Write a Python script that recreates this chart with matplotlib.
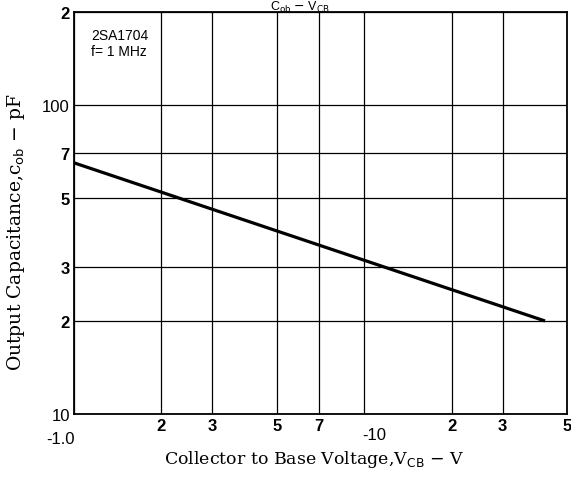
import matplotlib
matplotlib.use("Agg")
import matplotlib.pyplot as plt
from matplotlib.ticker import FixedLocator, NullLocator
import matplotlib.transforms as mtransforms

# Data
vcb = [1.0, 42.0]
cob = [65.0, 20.0]

x_ticks = [1, 2, 3, 5, 7, 10, 20, 30, 50]
x_labels = ["", "2", "3", "5", "7", "", "2", "3", "5"]
y_ticks = [10, 20, 30, 50, 70, 100, 200]
y_labels = ["10", "2", "3", "5", "7", "100", "2"]

fig = plt.figure(figsize=(5.71, 4.81), dpi=100)
ax = fig.add_axes([74/571, 1 - 415/481, (567-74)/571, (415-13)/481])
ax.set_xscale("log")
ax.set_yscale("log")
ax.set_xlim(1, 50)
ax.set_ylim(10, 200)

ax.xaxis.set_major_locator(FixedLocator(x_ticks))
ax.xaxis.set_minor_locator(NullLocator())
ax.yaxis.set_major_locator(FixedLocator(y_ticks))
ax.yaxis.set_minor_locator(NullLocator())
ax.set_xticklabels(x_labels, fontfamily="Liberation Sans", fontsize=12, fontweight="bold")
ax.set_yticklabels(y_labels, fontfamily="Liberation Sans", fontsize=12)
for lbl in ax.get_yticklabels():
    if lbl.get_text() in ("2", "3", "5", "7"):
        lbl.set_fontweight("bold")
ax.tick_params(length=0, pad=3)
ax.grid(True, color="black", linewidth=0.9)
for s in ax.spines.values():
    s.set_color("black")
    s.set_linewidth(1.3)

ax.plot(vcb, cob, color="black", linewidth=2.3, solid_capstyle="butt")

trans = mtransforms.blended_transform_factory(ax.transData, ax.transAxes)
ax.text(0.9, -0.062, "-1.0", transform=trans, ha="center", va="center",
        fontfamily="Liberation Sans", fontsize=12)
ax.text(10.8, -0.05, "-10", transform=trans, ha="center", va="center",
        fontfamily="Liberation Sans", fontsize=12)

ax.text(0.035, 0.96, "2SA1704\nf= 1 MHz", transform=ax.transAxes, ha="left", va="top",
        fontfamily="Liberation Sans", fontsize=10, linespacing=1.2)

ax.set_xlabel("Collector to Base Voltage,V$_{\\mathrm{CB}}$ $-$ V", fontfamily="DejaVu Serif",
              fontsize=12.5)
ax.xaxis.set_label_coords(0.487, -0.085)
ax.set_ylabel("Output Capacitance,c$_{\\mathrm{ob}}$ $-$ pF", fontfamily="DejaVu Serif",
              fontsize=13.5)
ax.yaxis.set_label_coords(-0.095, 0.455)

fig.text(300/571, 1.0, "C$_{\\mathrm{ob}}$ $-$ V$_{\\mathrm{CB}}$", ha="center", va="top",
         fontfamily="Liberation Sans", fontsize=9)

fig.savefig("out.png", dpi=100)
